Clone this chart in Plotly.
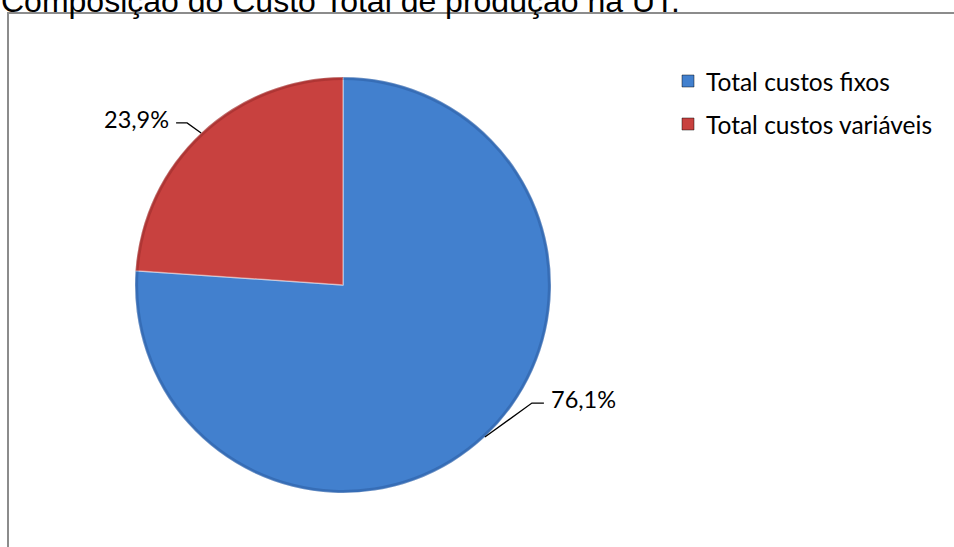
import math
import plotly.graph_objects as go

# ---- data ----
labels = ["Total custos fixos", "Total custos variáveis"]
values = [76.1, 23.9]
colors = ["#4280CE", "#C8413F"]
rim_colors = ["rgba(20,50,110,0.25)", "rgba(100,20,20,0.25)"]
title_text = "Composição do Custo Total de produção na UT."

# ---- layout constants (pixels) ----
W, H = 954, 547
CX, CY, R = 343, 285, 208

def px(x):
    return x / W

def py(y):
    return 1 - y / H

domain = dict(x=[px(CX - R), px(CX + R)], y=[py(CY + R), py(CY - R)])

fig = go.Figure()
fig.add_trace(go.Pie(
    labels=labels,
    values=values,
    sort=False,
    direction="clockwise",
    rotation=0,
    textinfo="none",
    hoverinfo="label+percent",
    marker=dict(colors=colors, line=dict(color="rgba(255,255,255,0.4)", width=1.5)),
    domain=domain,
    showlegend=False,
))
# subtle darker rim to hint at the bevelled edge
fig.add_trace(go.Pie(
    labels=labels,
    values=values,
    sort=False,
    direction="clockwise",
    rotation=0,
    hole=0.985,
    textinfo="none",
    hoverinfo="skip",
    marker=dict(colors=rim_colors, line=dict(width=0)),
    domain=domain,
    showlegend=False,
))

shapes = []
annotations = []

# border of the chart area
shapes.append(dict(type="rect", xref="paper", yref="paper",
                   x0=px(8), x1=1.02, y0=-0.02, y1=py(13),
                   line=dict(color="#8c8c8c", width=2), fillcolor="rgba(0,0,0,0)"))

# title (partly cut at the top, as in the original)
annotations.append(dict(text=title_text, xref="paper", yref="paper",
                        x=px(-1), y=py(0), xanchor="left", yanchor="middle",
                        showarrow=False, yshift=-1,
                        font=dict(family="Liberation Sans, Arial", size=32, color="#000")))

# data labels with leader lines: elbow and text offsets per slice
total = sum(values)
label_font = dict(family="Lato, Calibri, sans-serif", size=23.5, color="#000")
legend_font = dict(family="Lato, Calibri, sans-serif", size=24.5, color="#000")
# (elbow dx, elbow dy, horizontal length) relative to slice edge midpoint
leader = [(47, -34, 12), (-14, -10, -11)]
cum = 0.0
for v, (ex, ey, hl) in zip(values, leader):
    mid = (cum + v / 2) / total * 2 * math.pi
    cum += v
    x0 = CX + R * math.sin(mid)
    y0 = CY - R * math.cos(mid)
    x1, y1 = x0 + ex, y0 + ey
    x2 = x1 + hl
    shapes.append(dict(type="path", xref="paper", yref="paper",
                       path=f"M {px(x0)},{py(y0)} L {px(x1)},{py(y1)} L {px(x2)},{py(y1)}",
                       line=dict(color="#000", width=1.3)))
    pct = f"{v / total * 100:.1f}".replace(".", ",") + "%"
    annotations.append(dict(text=pct, xref="paper", yref="paper",
                            x=px(x2 + (5 if hl > 0 else -5)), y=py(y1),
                            xanchor="left" if hl > 0 else "right", yanchor="middle",
                            yshift=4, showarrow=False, font=label_font))

# legend (manual)
leg_x, leg_y0, leg_dy, sq = 682, 81, 43, 12
for i, (lab, col) in enumerate(zip(labels, colors)):
    yc = leg_y0 + i * leg_dy
    shapes.append(dict(type="rect", xref="paper", yref="paper",
                       x0=px(leg_x), x1=px(leg_x + sq), y0=py(yc + sq / 2), y1=py(yc - sq / 2),
                       fillcolor=col, line=dict(color="rgba(0,0,0,0.45)", width=1)))
    annotations.append(dict(text=lab, xref="paper", yref="paper",
                            x=px(704), y=py(yc), xanchor="left", yanchor="middle",
                            showarrow=False, font=legend_font))

fig.update_layout(
    width=W, height=H,
    margin=dict(l=0, r=0, t=0, b=0),
    paper_bgcolor="white",
    plot_bgcolor="white",
    shapes=shapes,
    annotations=annotations,
)

fig.write_html("out.html", config={"displayModeBar": False},
               post_script="document.body.style.margin='0';")
